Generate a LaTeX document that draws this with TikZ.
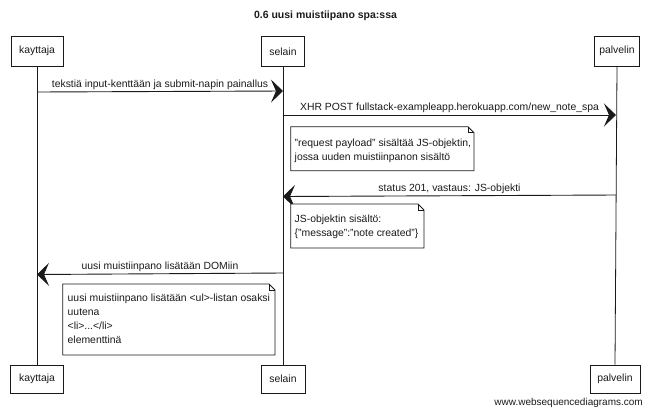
\documentclass[tikz,border=0pt]{standalone}
\usepackage{fontspec}
\setmainfont{Liberation Sans}
\usetikzlibrary{arrows.meta}
\definecolor{ink}{HTML}{1A1A1A}
\begin{document}
\begin{tikzpicture}[x=1pt,y=-1pt,
  font=\fontsize{10.4}{14}\selectfont,
  actor/.style={draw=ink, line width=0.8pt, inner sep=0pt, fill=white, text=ink},
  life/.style={draw=ink, line width=0.8pt},
  msg/.style={draw=ink, line width=0.9pt, -{Stealth[length=12pt,width=23pt,inset=5pt]}},
  lbl/.style={inner sep=0pt, anchor=base, text=ink},
  notetext/.style={inner sep=0pt, align=left, anchor=north west, text=ink},
  notebox/.style={draw=ink, line width=0.8pt, fill=white},
  fold/.style={draw=ink, line width=0.6pt}]
\useasboundingbox (0,0) rectangle (650,413);
% title
\node[font=\fontsize{10.5}{12}\selectfont\bfseries, text=ink] (title) at (325.5,16) {0.6 uusi muistiipano spa:ssa};
% actors top
\node[actor, minimum width=52pt, minimum height=30.5pt] (k1) at (37,51.3) {kayttaja};
\node[actor, minimum width=43.6pt, minimum height=30.5pt] (s1) at (283,51.3) {selain};
\node[actor, minimum width=45pt, minimum height=30.5pt] (p1) at (617,51.3) {palvelin};
% actors bottom
\node[actor, minimum width=53pt, minimum height=28pt] (k2) at (37,379) {kayttaja};
\node[actor, minimum width=44pt, minimum height=28pt] (s2) at (283,379) {selain};
\node[actor, minimum width=50pt, minimum height=28pt] (p2) at (615,379) {palvelin};
% lifelines
\draw[life] (k1.south) -- (k2.north);
\draw[life] (s1.south) -- (s2.north);
\draw[life] (p1.south) -- (p2.north);
% message points
\coordinate (m1a) at (37,92);   \coordinate (m1b) at (283,91);
\coordinate (m2a) at (283,115); \coordinate (m2b) at (616,115);
\coordinate (m3a) at (616,195); \coordinate (m3b) at (283,196.5);
\coordinate (m4a) at (283,273); \coordinate (m4b) at (37,274.5);
\draw[msg] (m1a) -- node[lbl, yshift=4.5pt] (l1) {tekstiä input-kenttään ja submit-napin painallus} (m1b);
\draw[msg] (m2a) -- node[lbl, yshift=4.5pt] (l2) {XHR POST fullstack-exampleapp.herokuapp.com/new\_note\_spa} (m2b);
\draw[msg] (m3a) -- node[lbl, yshift=4.5pt] (l3) {status 201, vastaus: JS-objekti} (m3b);
\draw[msg] (m4a) -- node[lbl, yshift=4.5pt] (l4) {uusi muistiinpano lisätään DOMiin} (m4b);
% note 1
\draw[notebox] (290.7,126.7) -- (468,126.7) -- (474,132.7) -- (474,170.7) -- (290.7,170.7) -- cycle;
\draw[fold] (468,126.7) -- (468,132.7) -- (474,132.7);
\node[notetext] (n1) at (294.5,138.4) {"request payload" sisältää JS-objektin,\\jossa uuden muistiinpanon sisältö};
% note 2
\draw[notebox] (290.7,204) -- (418,204) -- (424,210) -- (424,248) -- (290.7,248) -- cycle;
\draw[fold] (418,204) -- (418,210) -- (424,210);
\node[notetext] (n2) at (294.5,215.1) {JS-objektin sisältö:\\\{"message":"note created"\}};
% note 3
\draw[notebox] (62.7,284) -- (269,284) -- (275,290) -- (275,355) -- (62.7,355) -- cycle;
\draw[fold] (269,284) -- (269,290) -- (275,290);
\node[notetext] (n3) at (67.5,294.1) {uusi muistiinpano lisätään <ul>-listan osaksi\\uutena\\<li>...</li>\\elementtinä};
% footer
\node[anchor=base east, inner sep=0pt, font=\fontsize{10}{12}\selectfont, text=ink] (foot) at (643,405) {www.websequencediagrams.com};
\end{tikzpicture}
\end{document}
